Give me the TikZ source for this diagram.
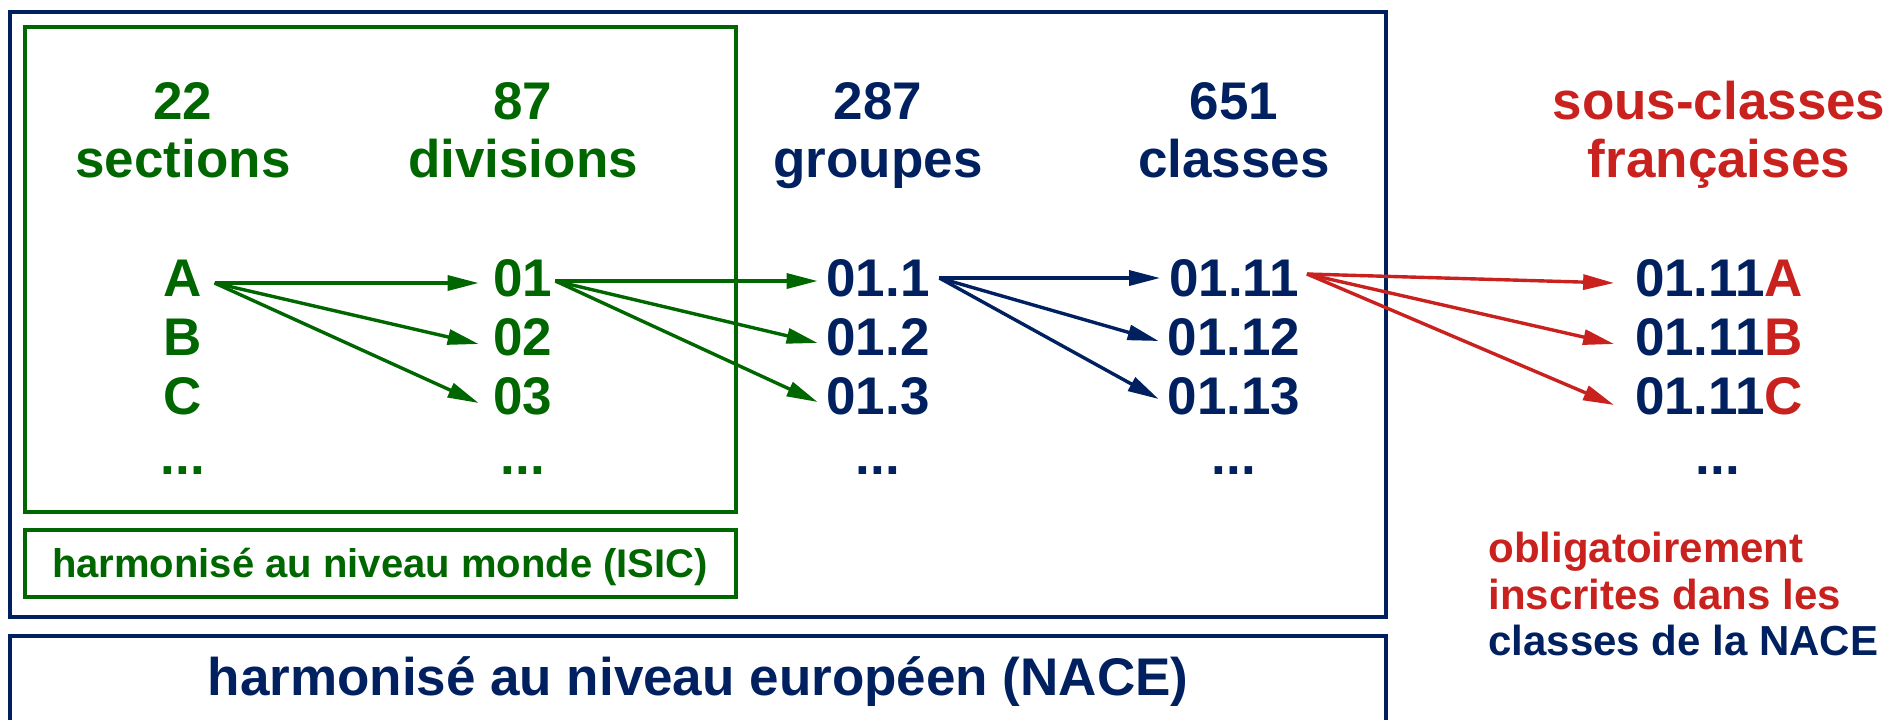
\documentclass[tikz,border=0pt]{standalone}
\usepackage{fontspec}
\setmainfont{Liberation Sans}
\usetikzlibrary{arrows.meta}
\definecolor{cgreen}{RGB}{0,102,0}
\definecolor{cnavy}{RGB}{0,32,96}
\definecolor{cred}{RGB}{201,33,30}
\begin{document}
\begin{tikzpicture}[x=0.5pt,y=-0.5pt,
  big/.style={font=\fontsize{26.5}{30}\selectfont\bfseries, inner sep=0pt, anchor=base},
  isic/.style={font=\fontsize{20}{24}\selectfont\bfseries, inner sep=0pt, anchor=base, text=cgreen},
  note/.style={font=\fontsize{21}{24}\selectfont\bfseries, inner sep=0pt, anchor=base west},
  gbox/.style={draw=cgreen, line width=1.7pt},
  nbox/.style={draw=cnavy, line width=1.7pt},
  arr/.style={line width=1.7pt, -{Triangle[length=15.5pt,width=7.5pt]}},
  garr/.style={arr, draw=cgreen, fill=cgreen},
  narr/.style={arr, draw=cnavy, fill=cnavy},
  rarr/.style={arr, draw=cred, fill=cred}
]
\path[use as bounding box] (0,0) rectangle (1889,719);

% boxes
\draw[nbox] (10,12) rectangle (1386,617);
\draw[gbox] (25,27) rectangle (736,512);
\draw[gbox] (25,530) rectangle (736,597);
\draw[nbox] (10,740) -- (10,636) -- (1386,636) -- (1386,740);

% headers
\node[big, text=cgreen] (h1a) at (183,119) {22};
\node[big, text=cgreen] (h1b) at (183,177) {sections};
\node[big, text=cgreen] (h2a) at (523,119) {87};
\node[big, text=cgreen] (h2b) at (523,177) {divisions};
\node[big, text=cnavy] (h3a) at (878,119) {287};
\node[big, text=cnavy] (h3b) at (878,177) {groupes};
\node[big, text=cnavy] (h4a) at (1234,119) {651};
\node[big, text=cnavy] (h4b) at (1234,177) {classes};
\node[big, text=cred] (h5a) at (1719,119) {sous-classes};
\node[big, text=cred] (h5b) at (1719,177) {françaises};

% column 1
\node[big, text=cgreen] (A) at (183,296) {A};
\node[big, text=cgreen] (B) at (183,355) {B};
\node[big, text=cgreen] (C) at (183,414) {C};
\node[big, text=cgreen] (d1) at (183,474) {...};
% column 2
\node[big, text=cgreen] (n01) at (523,296) {01};
\node[big, text=cgreen] (n02) at (523,355) {02};
\node[big, text=cgreen] (n03) at (523,414) {03};
\node[big, text=cgreen] (d2) at (523,474) {...};
% column 3
\node[big, text=cnavy] (g1) at (878,296) {01.1};
\node[big, text=cnavy] (g2) at (878,355) {01.2};
\node[big, text=cnavy] (g3) at (878,414) {01.3};
\node[big, text=cnavy] (d3) at (878,474) {...};
% column 4
\node[big, text=cnavy] (c1) at (1234,296) {01.11};
\node[big, text=cnavy] (c2) at (1234,355) {01.12};
\node[big, text=cnavy] (c3) at (1234,414) {01.13};
\node[big, text=cnavy] (d4) at (1234,474) {...};
% column 5
\node[big, text=cnavy] (s1) at (1719,296) {01.11\textcolor{cred}{A}};
\node[big, text=cnavy] (s2) at (1719,355) {01.11\textcolor{cred}{B}};
\node[big, text=cnavy] (s3) at (1719,414) {01.11\textcolor{cred}{C}};
\node[big, text=cnavy] (d5) at (1718,474) {...};

% arrows
\draw[garr] ([shift={(12,-13)}]A.base east) -- ([shift={(-14.5,-13)}]n01.base west);
\draw[garr] ([shift={(12,-13)}]A.base east) -- ([shift={(-14.5,-11)}]n02.base west);
\draw[garr] ([shift={(12,-13)}]A.base east) -- ([shift={(-14.5,-11)}]n03.base west);

\draw[garr] ([shift={(2.5,-15)}]n01.base east) -- ([shift={(-8.4,-15)}]g1.base west);
\draw[garr] ([shift={(2.5,-15)}]n01.base east) -- ([shift={(-8.4,-12)}]g2.base west);
\draw[garr] ([shift={(2.5,-15)}]n01.base east) -- ([shift={(-8.4,-12)}]g3.base west);

\draw[narr] ([shift={(9.4,-18)}]g1.base east) -- ([shift={(-8.7,-18)}]c1.base west);
\draw[narr] ([shift={(9.4,-18)}]g1.base east) -- ([shift={(-8.7,-14)}]c2.base west);
\draw[narr] ([shift={(9.4,-18)}]g1.base east) -- ([shift={(-8.7,-15)}]c3.base west);

\draw[rarr] ([shift={(7.7,-22)}]c1.base east) -- ([shift={(-20.5,-13)}]s1.base west);
\draw[rarr] ([shift={(7.7,-22)}]c1.base east) -- ([shift={(-20.5,-11)}]s2.base west);
\draw[rarr] ([shift={(7.7,-22)}]c1.base east) -- ([shift={(-20.5,-9)}]s3.base west);

% box labels
\node[isic] (isic) at (380,577) {harmonisé au niveau monde (ISIC)};
\node[big, text=cnavy] (nace) at (698,695) {harmonisé au niveau européen (NACE)};

% note
\node[note, text=cred] (o1) at (1488,562) {obligatoirement};
\node[note, text=cred] (o2) at (1488,609) {inscrites dans les};
\node[note, text=cnavy] (o3) at (1488,655) {classes de la NACE};
\end{tikzpicture}
\end{document}
